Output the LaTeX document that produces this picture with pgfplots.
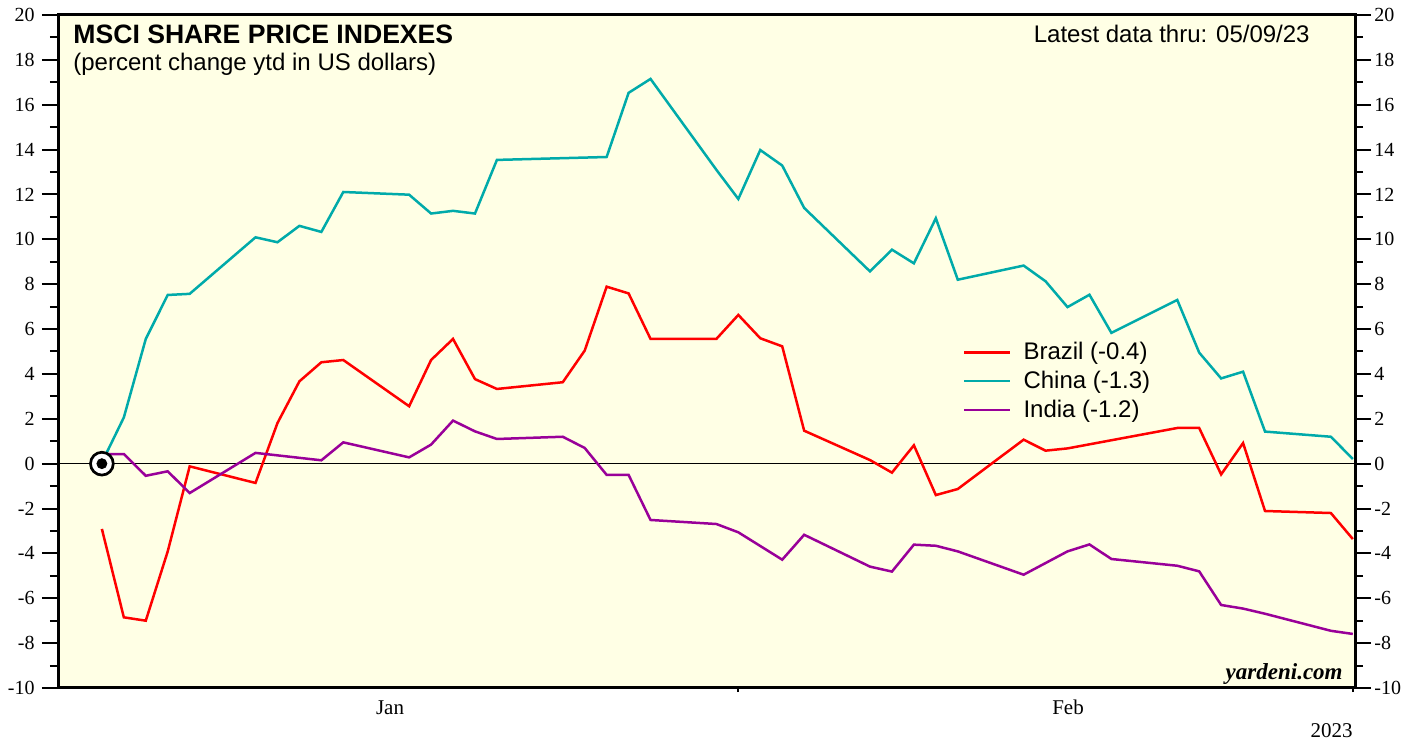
\documentclass[border=0pt]{standalone}
\usepackage{fontspec}
\setmainfont{Liberation Sans}
\newfontfamily\seriffont{Liberation Serif}
\usepackage{pgfplots}
\pgfplotsset{compat=1.18}
\definecolor{bgyellow}{RGB}{255,255,229}
\definecolor{brazilred}{RGB}{255,0,0}
\definecolor{chinateal}{RGB}{0,170,170}
\definecolor{indiapurple}{RGB}{153,0,153}

\begin{document}
\begin{tikzpicture}[x=1pt,y=1pt]
\useasboundingbox (0,0) rectangle (709.5,372);
\begin{axis}[
  at={(29pt,28pt)}, anchor=south west,
  scale only axis, width=648.5pt, height=336.5pt,
  xmin=0, xmax=59.1, ymin=-10, ymax=20,
  axis background/.style={fill=bgyellow},
  axis line style={line width=1.5pt},
  ytick={-10,-8,...,20},
  yticklabels={-10,-8,-6,-4,-2,0,2,4,6,8,10,12,14,16,18,20},
  minor y tick num=1,
  ytick pos=left,
  xtick pos=bottom,
  tick align=outside,
  major tick length=8pt, minor tick length=4pt,
  tick style={line width=1pt, black},
  yticklabel style={font=\seriffont\fontsize{10}{12}\selectfont, inner sep=0pt, xshift=-3.5pt},
  xtick=\empty,
  extra x ticks={31,59},
  extra x tick labels={},
  extra x tick style={major tick length=2pt},
  clip=false,
  legend style={at={(0.6975,0.519)}, anchor=north west, draw=none, fill=none, inner sep=0pt,
    font=\fontsize{12}{14}\selectfont, nodes={inner sep=1.5pt}, row sep=1.25pt,
    /tikz/every odd column/.append style={column sep=4.5pt}},
  legend cell align=left,
  legend image code/.code={\draw[#1, line width=1.25pt] (0pt,0pt) -- (23pt,0pt);},
]
\addplot[black, line width=0.5pt, forget plot] coordinates {(0,0) (59.1,0)};

\addplot[brazilred, line width=1.25pt] coordinates {
(2,-2.91) (3,-6.85) (4,-7.00) (5,-3.91) (6,-0.12) (9,-0.86) (10,1.81) (11,3.67)
(12,4.52) (13,4.62) (16,2.56) (17,4.62) (18,5.56) (19,3.77) (20,3.33) (23,3.63)
(24,5.04) (25,7.89) (26,7.59) (27,5.56) (30,5.56) (31,6.63) (32,5.59) (33,5.23)
(34,1.47) (37,0.16) (38,-0.40) (39,0.82) (40,-1.40) (41,-1.13) (44,1.07) (45,0.58)
(46,0.68) (51,1.59) (52,1.59) (53,-0.48) (54,0.92) (55,-2.11) (58,-2.20) (59,-3.36)};
\addlegendentry{Brazil (-0.4)}

\addplot[chinateal, line width=1.25pt] coordinates {
(2,0.05) (3,2.06) (4,5.56) (5,7.52) (6,7.57) (9,10.09) (10,9.87) (11,10.60)
(12,10.33) (13,12.11) (16,11.99) (17,11.15) (18,11.27) (19,11.15) (20,13.54) (25,13.67)
(26,16.53) (27,17.15) (30,13.10) (31,11.80) (32,13.98) (33,13.29) (34,11.40) (37,8.57)
(38,9.54) (39,8.93) (40,10.94) (41,8.20) (44,8.83) (45,8.13) (46,6.98) (47,7.53)
(48,5.83) (51,7.30) (52,4.95) (53,3.80) (54,4.10) (55,1.43) (58,1.20) (59,0.21)};
\addlegendentry{China (-1.3)}

\addplot[indiapurple, line width=1.25pt] coordinates {
(2,0.43) (3,0.43) (4,-0.54) (5,-0.34) (6,-1.31) (9,0.48) (12,0.15) (13,0.95)
(16,0.28) (17,0.85) (18,1.92) (19,1.44) (20,1.10) (23,1.20) (24,0.70) (25,-0.50)
(26,-0.50) (27,-2.51) (30,-2.69) (31,-3.06) (33,-4.28) (34,-3.17) (37,-4.59) (38,-4.81)
(39,-3.61) (40,-3.66) (41,-3.91) (44,-4.95) (46,-3.91) (47,-3.60) (48,-4.25) (51,-4.55)
(52,-4.80) (53,-6.30) (54,-6.46) (55,-6.69) (58,-7.45) (59,-7.59)};
\addlegendentry{India (-1.2)}

\addplot[only marks, mark=*, mark size=5.7pt, mark options={draw=black, fill=white, line width=1.35pt}, forget plot] coordinates {(2,0)};
\addplot[only marks, mark=*, mark size=2.5pt, mark options={draw=black, fill=black}, forget plot] coordinates {(2,0)};

\draw[line width=1.5pt] (rel axis cs:0,0) -- ++(0,-9pt);
\end{axis}

\begin{axis}[
  at={(29pt,28pt)}, anchor=south west,
  scale only axis, width=648.5pt, height=336.5pt,
  xmin=0, xmax=59.1, ymin=-10, ymax=20,
  hide x axis,
  axis y line*=right,
  axis line style={line width=1.5pt, -},
  y axis line style={-},
  ytick={-10,-8,...,20},
  yticklabels={-10,-8,-6,-4,-2,0,2,4,6,8,10,12,14,16,18,20},
  minor y tick num=1,
  tick align=outside,
  major tick length=8pt, minor tick length=4pt,
  tick style={line width=1pt, black},
  yticklabel style={font=\seriffont\fontsize{10}{12}\selectfont, inner sep=0pt, xshift=1.5pt},
]
\addplot[draw=none] coordinates {(0,0)};
\end{axis}

\node[anchor=base west, inner sep=0pt, font=\bfseries\fontsize{13.3}{15}\selectfont] at (36.5,350.3) {MSCI SHARE PRICE INDEXES};
\node[anchor=base west, inner sep=0pt, font=\fontsize{12}{14}\selectfont] at (36.5,336.5) {(percent change ytd in US dollars)};
\node[anchor=base east, inner sep=0pt, font=\fontsize{12}{14}\selectfont] at (655,350.6) {Latest data thru: 05/09/23};
\node[anchor=base east, inner sep=0pt, font=\seriffont\bfseries\itshape\fontsize{11.5}{13}\selectfont] at (671.5,32) {yardeni.com};
\node[anchor=base, inner sep=0pt, font=\seriffont\fontsize{10.5}{12}\selectfont] at (195,14.5) {Jan};
\node[anchor=base, inner sep=0pt, font=\seriffont\fontsize{10.5}{12}\selectfont] at (534,14.5) {Feb};
\node[anchor=base east, inner sep=0pt, font=\seriffont\fontsize{10.5}{12}\selectfont] at (676.5,3) {2023};
\end{tikzpicture}
\end{document}
